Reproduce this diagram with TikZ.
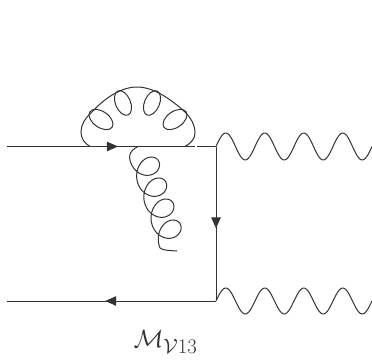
\documentclass[tikz,border=0pt]{standalone}
\usetikzlibrary{arrows.meta,decorations.markings}
\definecolor{ink}{HTML}{333333}
\tikzset{
  fermion/.style={draw=ink,line width=1pt},
  boson/.style={draw=ink,line width=1pt,line join=round},
  tip/.style={postaction={decorate},decoration={markings,mark=at position #1 with {\arrow{Triangle[length=11pt,width=9.5pt]}}}},
  curl/.style={draw=ink,line width=1pt}
}
\begin{document}
\begin{tikzpicture}[x=1pt,y=-1pt]
\useasboundingbox (0,0) rectangle (372,359);
\coordinate (in1) at (7,146.5);
\coordinate (g1) at (90,146.5);
\coordinate (g2) at (185,146.5);
\coordinate (b1) at (195,146.5);
\coordinate (b2) at (197.3,146.5);
\coordinate (v1) at (216,146.5);
\coordinate (v2) at (216,301);
\coordinate (in2) at (7,301);
% fermion lines
\path[fermion,tip=0.59] (in1) -- (b1);
\path[fermion] (b2) -- (v1);
\path[fermion,tip=0.53] (v1) -- (v2);
\path[fermion,tip=0.53] (v2) -- (in2);
% photons
\draw[boson,shift={(v1)},domain=0:156,samples=120,smooth] plot (\x,{-13.5*sin(\x/39*360)});
\draw[boson,shift={(v2)},domain=0:156,samples=120,smooth] plot (\x,{-13*sin(\x/39*360)});
% gluon arch
\draw[curl] (g1) .. controls (84,143) and (81,138) .. (81,132)
  .. controls (81,125) and (85,118) .. (92,112)
  .. controls (100,103) and (118,87) .. (137,87)
  .. controls (156,87) and (175,103) .. (185,112)
  .. controls (191,118) and (195,125) .. (195,133)
  .. controls (195,139) and (191,143) .. (g2);
\draw[curl,rotate around={-35:(101,119.5)}] (101,119.5) ellipse [x radius=13.5,y radius=8];
\draw[curl,rotate around={-67:(123,103)}] (123,103) ellipse [x radius=13,y radius=7.5];
\draw[curl,rotate around={67:(152,103)}] (152,103) ellipse [x radius=13,y radius=7.5];
\draw[curl,rotate around={35:(175,119.5)}] (175,119.5) ellipse [x radius=13.5,y radius=8];
% gluon helix
\coordinate (g3) at (138,146.5);
\coordinate (g4) at (177,251);
\draw[curl] (g3) .. controls (133,149) and (130,152) .. (129.5,156.8)
  plot[domain=-165:1300,samples=220,smooth,variable=\p]
  ({146+\p/360*7.2+12.8*cos(\p)+3.2*sin(\p)},{165.5+\p/360*21+2.75*cos(\p)-13.75*sin(\p)})
  .. controls (163,250.5) and (170,250.5) .. (g4);
\node[text=ink,inner sep=0pt,font=\fontsize{30}{33}\selectfont] (lab) at (165.5,342) {$\mathcal{M}_{\mathcal{V}13}$};
\end{tikzpicture}
\end{document}
